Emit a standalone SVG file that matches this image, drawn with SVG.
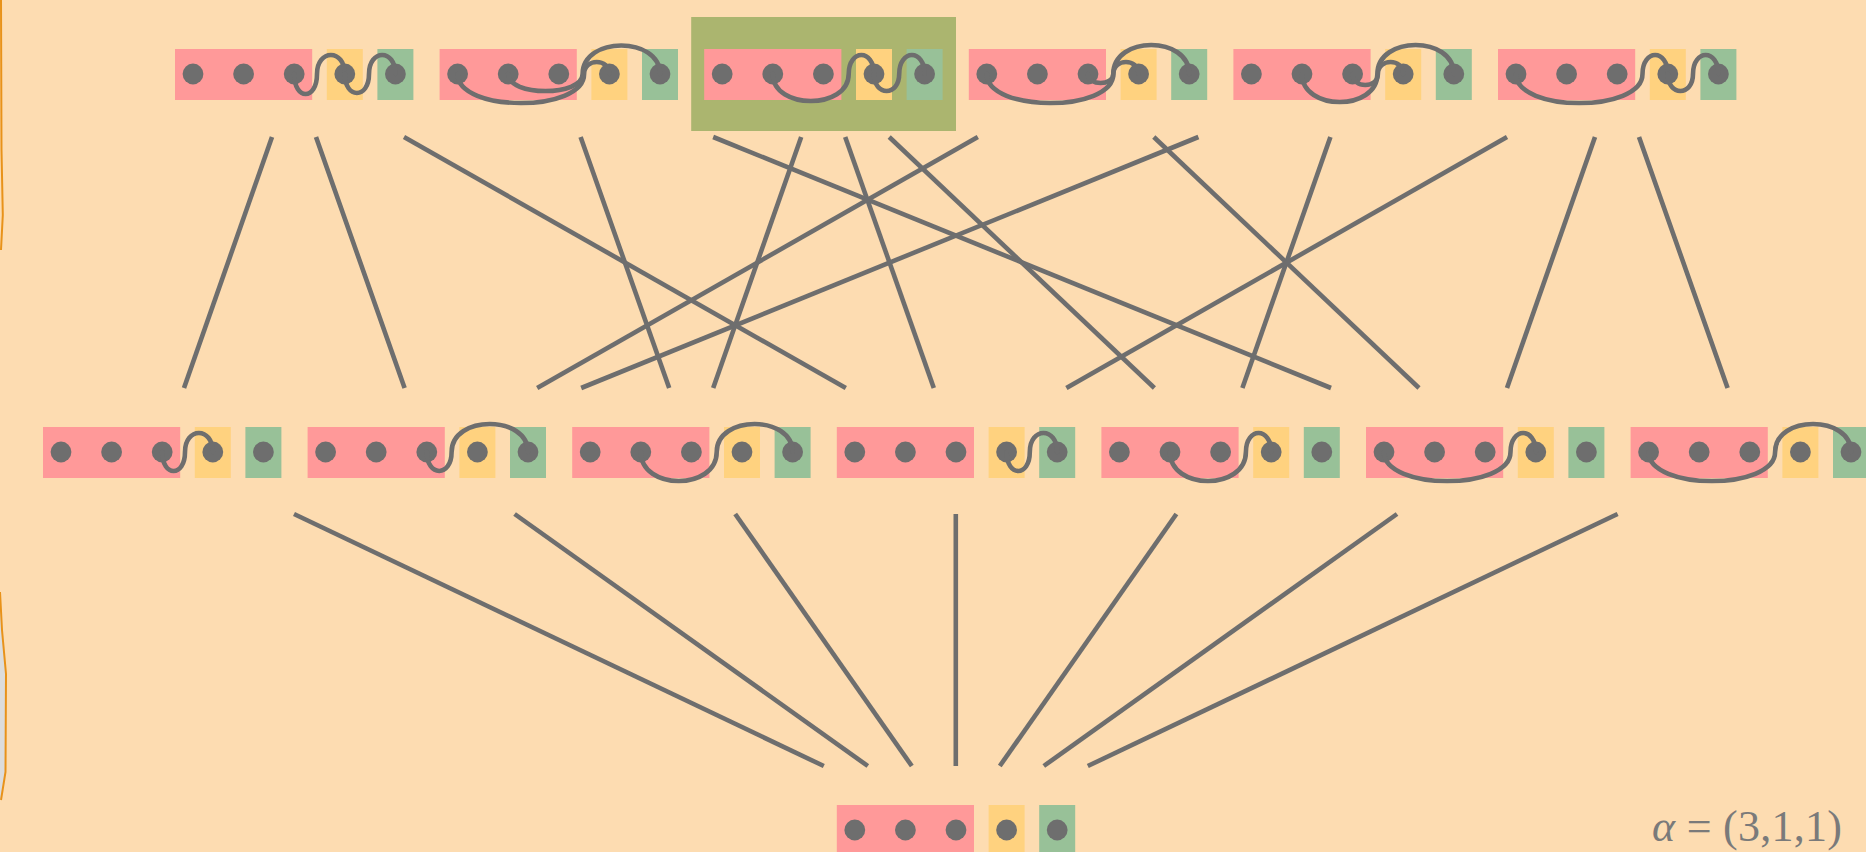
<svg xmlns="http://www.w3.org/2000/svg" xmlns:xlink="http://www.w3.org/1999/xlink" width="1866" height="852" viewBox="0 0 1866 852">
<style>
.r{fill:#ff9999}.y{fill:#ffd27f}.g{fill:#98c198}
.d{fill:#6e6e6e}
.arc{fill:none;stroke:#6e6e6e;stroke-width:4.6;stroke-linecap:round}
.ln{stroke:#6e6e6e;stroke-width:4.6;stroke-linecap:butt}
.lbl{font-family:"Liberation Serif","DejaVu Serif",serif;font-size:44px;fill:#7a7a7a}
</style>
<defs>
<g id="cells">
<rect class="r" x="0" y="0" width="137.2" height="51"/>
<rect class="y" x="151.8" y="0" width="36" height="51"/>
<rect class="g" x="202.4" y="0" width="36" height="51"/>
<circle class="d" cx="18" cy="25" r="10.4"/>
<circle class="d" cx="68.6" cy="25" r="10.4"/>
<circle class="d" cx="119.2" cy="25" r="10.4"/>
<circle class="d" cx="169.8" cy="25" r="10.4"/>
<circle class="d" cx="220.4" cy="25" r="10.4"/>
</g>
</defs>
<rect x="0" y="0" width="1866" height="852" fill="#fddcb1"/>
<path d="M0,592 L2,630 L6,674 L5.5,772 L1,800 L0,800 Z" fill="#dcdcdc"/>
<path d="M1,0 L1.5,150 L2.8,215 L1,250" fill="none" stroke="#e8921a" stroke-width="2"/>
<path d="M0,592 L2,630 L6,674 L5.5,772 L1,800" fill="none" stroke="#e8921a" stroke-width="2"/>
<rect id="highlight" x="691.2" y="17" width="264.8" height="114" fill="#abb56f"/>
<g id="connectors">
<line class="ln" x1="272" y1="137" x2="184" y2="388"/>
<line class="ln" x1="316" y1="137" x2="404.6" y2="388"/>
<line class="ln" x1="404" y1="137" x2="845.8" y2="388"/>
<line class="ln" x1="580.6" y1="137" x2="669.2" y2="388"/>
<line class="ln" x1="713.2" y1="137" x2="1331" y2="388"/>
<line class="ln" x1="801.2" y1="137" x2="713.2" y2="388"/>
<line class="ln" x1="845.2" y1="137" x2="933.8" y2="388"/>
<line class="ln" x1="889.2" y1="137" x2="1154.4" y2="388"/>
<line class="ln" x1="977.8" y1="137" x2="537.2" y2="388"/>
<line class="ln" x1="1153.8" y1="137" x2="1419" y2="388"/>
<line class="ln" x1="1198.4" y1="137" x2="581.2" y2="388"/>
<line class="ln" x1="1330.4" y1="137" x2="1242.4" y2="388"/>
<line class="ln" x1="1507" y1="137" x2="1066.4" y2="388"/>
<line class="ln" x1="1595" y1="137" x2="1507" y2="388"/>
<line class="ln" x1="1639" y1="137" x2="1727.6" y2="388"/>
<line class="ln" x1="294" y1="514" x2="823.8" y2="766"/>
<line class="ln" x1="514.6" y1="514" x2="867.8" y2="766"/>
<line class="ln" x1="735.2" y1="514" x2="911.8" y2="766"/>
<line class="ln" x1="955.8" y1="514" x2="955.8" y2="766"/>
<line class="ln" x1="1176.4" y1="514" x2="999.8" y2="766"/>
<line class="ln" x1="1397" y1="514" x2="1043.8" y2="766"/>
<line class="ln" x1="1617.6" y1="514" x2="1087.8" y2="766"/>
</g>
<g id="top1" transform="translate(175,49)">
<use xlink:href="#cells"/>
<path class="arc" d="M119.2 25 C119.2 51.7 142 51.7 142 25 C142 -0.3 169.8 -0.3 169.8 25"/>
<path class="arc" d="M169.8 25 C169.8 50.3 194 50.3 194 25 C194 -0.3 220.4 -0.3 220.4 25"/>
</g>
<g id="top2" transform="translate(439.6,49)">
<use xlink:href="#cells"/>
<path class="arc" d="M18 25 C18 63.7 144.5 63.7 144.5 25 C144.5 9 169.8 9 169.8 25"/>
<path class="arc" d="M68.6 25 C68.6 47.7 143 47.7 143 25 C143 -13 220.4 -13 220.4 25"/>
</g>
<g id="top3" transform="translate(704.2,49)">
<use xlink:href="#cells"/>
<path class="arc" d="M68.6 25 C68.6 61 144.5 61 144.5 25 C144.5 -0.3 169.8 -0.3 169.8 25"/>
<path class="arc" d="M169.8 25 C169.8 47.7 195 47.7 195 25 C195 -0.3 220.4 -0.3 220.4 25"/>
</g>
<g id="top4" transform="translate(968.8,49)">
<use xlink:href="#cells"/>
<path class="arc" d="M18 25 C18 63.7 144.5 63.7 144.5 25 C144.5 -13.7 220.4 -13.7 220.4 25"/>
<path class="arc" d="M119.2 25 C119.2 37 144.5 37 144.5 25 C144.5 9 169.8 9 169.8 25"/>
</g>
<g id="top5" transform="translate(1233.4,49)">
<use xlink:href="#cells"/>
<path class="arc" d="M68.6 25 C68.6 62.3 144 62.3 144 25 C144 -13.7 220.4 -13.7 220.4 25"/>
<path class="arc" d="M119.2 25 C119.2 39.7 144.5 39.7 144.5 25 C144.5 9 169.8 9 169.8 25"/>
</g>
<g id="top6" transform="translate(1498,49)">
<use xlink:href="#cells"/>
<path class="arc" d="M18 25 C18 63.7 144.5 63.7 144.5 25 C144.5 -0.3 169.8 -0.3 169.8 25"/>
<path class="arc" d="M169.8 25 C169.8 47.7 195 47.7 195 25 C195 -0.3 220.4 -0.3 220.4 25"/>
</g>
<g id="mid1" transform="translate(43,427)">
<use xlink:href="#cells"/>
<path class="arc" d="M119.2 25 C119.2 50.3 142 50.3 142 25 C142 -0.3 169.8 -0.3 169.8 25"/>
</g>
<g id="mid2" transform="translate(307.6,427)">
<use xlink:href="#cells"/>
<path class="arc" d="M119.2 25 C119.2 50.3 144 50.3 144 25 C144 -12.3 220.4 -12.3 220.4 25"/>
</g>
<g id="mid3" transform="translate(572.2,427)">
<use xlink:href="#cells"/>
<path class="arc" d="M68.6 25 C68.6 63.7 144.5 63.7 144.5 25 C144.5 -12.3 220.4 -12.3 220.4 25"/>
</g>
<g id="mid4" transform="translate(836.8,427)">
<use xlink:href="#cells"/>
<path class="arc" d="M169.8 25 C169.8 50.3 193 50.3 193 25 C193 -0.3 220.4 -0.3 220.4 25"/>
</g>
<g id="mid5" transform="translate(1101.4,427)">
<use xlink:href="#cells"/>
<path class="arc" d="M68.6 25 C68.6 63.7 144.5 63.7 144.5 25 C144.5 -0.3 169.8 -0.3 169.8 25"/>
</g>
<g id="mid6" transform="translate(1366,427)">
<use xlink:href="#cells"/>
<path class="arc" d="M18 25 C18 63.7 144.5 63.7 144.5 25 C144.5 -0.3 169.8 -0.3 169.8 25"/>
</g>
<g id="mid7" transform="translate(1630.6,427)">
<use xlink:href="#cells"/>
<path class="arc" d="M18 25 C18 63.7 144.5 63.7 144.5 25 C144.5 -12.3 220.4 -12.3 220.4 25"/>
</g>
<g id="bottom" transform="translate(836.8,805)">
<use xlink:href="#cells"/>
</g>
<text class="lbl" x="1652" y="841" textLength="190" lengthAdjust="spacing"><tspan font-style="italic">α</tspan> = (3,1,1)</text>
</svg>
